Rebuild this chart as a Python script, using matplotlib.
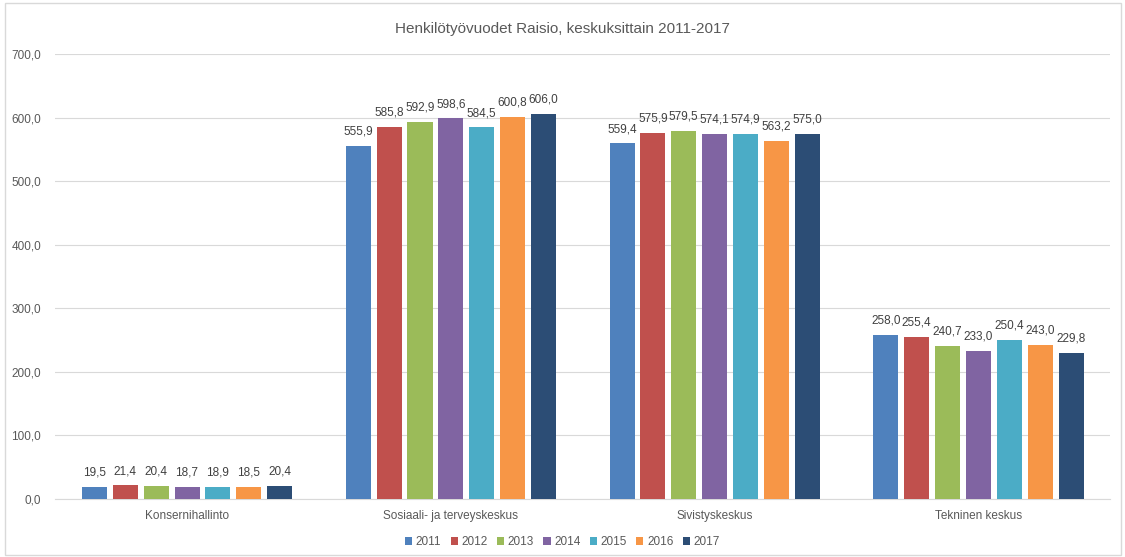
import numpy as np
import matplotlib
matplotlib.use("Agg")
import matplotlib.pyplot as plt
from matplotlib.patches import Rectangle

plt.rcParams['font.family'] = ['Liberation Sans', 'DejaVu Sans']

# data
categories = ["Konsernihallinto", "Sosiaali- ja terveyskeskus", "Sivistyskeskus", "Tekninen keskus"]
years = ["2011", "2012", "2013", "2014", "2015", "2016", "2017"]
v2011 = [19.5, 555.9, 559.4, 258.0]
v2012 = [21.4, 585.8, 575.9, 255.4]
v2013 = [20.4, 592.9, 579.5, 240.7]
v2014 = [18.7, 598.6, 574.1, 233.0]
v2015 = [18.9, 584.5, 574.9, 250.4]
v2016 = [18.5, 600.8, 563.2, 243.0]
v2017 = [20.4, 606.0, 575.0, 229.8]
series = [v2011, v2012, v2013, v2014, v2015, v2016, v2017]
colors = ["#4F81BD", "#C0504D", "#9BBB59", "#8064A2", "#4BACC6", "#F79646", "#2C4D75"]

fig = plt.figure(figsize=(11.25, 5.57), dpi=100)
# light chart border
fig.patches.append(Rectangle((0.004, 0.004), 0.992, 0.99, transform=fig.transFigure,
                             fill=False, edgecolor="#D9D9D9", linewidth=1))
ax = fig.add_axes([0.049, 0.104, 0.938, 0.799])

x = np.arange(len(categories))
step = 0.117
width = 0.095
for i, (yr, vals, c) in enumerate(zip(years, series, colors)):
    pos = x + (i - 3) * step
    bars = ax.bar(pos, vals, width=width, color=c, label=yr, zorder=3)
    labels = [f"{v:.1f}".replace(".", ",") for v in vals]
    ax.bar_label(bars, labels=labels, padding=6, fontsize=8.5, color="#404040")

ax.set_xlim(-0.5, len(categories) - 0.5)
ax.set_ylim(0, 700)
ax.set_yticks(np.arange(0, 701, 100))
ax.set_yticklabels([f"{t:.1f}".replace(".", ",") for t in np.arange(0, 701, 100)])
ax.set_xticks(x)
ax.set_xticklabels(categories)
ax.tick_params(axis="both", length=0, labelsize=8.5, colors="#595959")
ax.tick_params(axis="x", pad=8)
ax.tick_params(axis="y", pad=10)
ax.grid(axis="y", color="#D9D9D9", linewidth=0.8, zorder=0)
for s in ["top", "right", "left"]:
    ax.spines[s].set_visible(False)
ax.spines["bottom"].set_color("#D9D9D9")

fig.text(0.5, 0.948, "Henkilötyövuodet Raisio, keskuksittain 2011-2017",
         ha="center", va="center", fontsize=11, color="#595959")

fig.legend(loc="center", bbox_to_anchor=(0.5, 0.027), ncol=7, frameon=False,
           fontsize=8.5, handlelength=0.6, handleheight=0.6, handletextpad=0.3,
           columnspacing=0.8, labelcolor="#595959")

fig.savefig("out.png", dpi=100)
